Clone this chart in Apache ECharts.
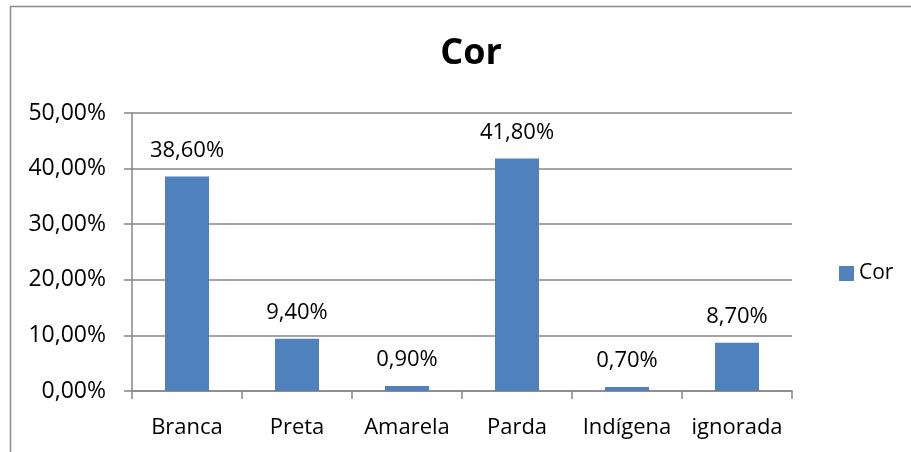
<!DOCTYPE html>
<html>
<head>
<meta charset="utf-8">
<script src="https://cdn.jsdelivr.net/npm/echarts@6/dist/echarts.min.js"></script>
<style>
  html, body { margin: 0; padding: 0; background: #fff; }
  #chart { width: 911px; height: 452px; }
</style>
</head>
<body>
<div id="chart"></div>
<script>
  // dados
  const categories = ['Branca', 'Preta', 'Amarela', 'Parda', 'Indígena', 'ignorada'];
  const corValues = [38.6, 9.4, 0.9, 41.8, 0.7, 8.7];
  const seriesName = 'Cor';

  const font = '"Open Sans", "Noto Sans", sans-serif';
  const pct = v => v.toFixed(2).replace('.', ',') + '%';

  const chart = echarts.init(document.getElementById('chart'));

  chart.setOption({
    animation: false,
    textStyle: { fontFamily: font },
    graphic: [
      {
        type: 'rect',
        shape: { x: 10.5, y: 6.5, width: 1000, height: 1000 },
        style: { fill: 'none', stroke: '#8c8c8c', lineWidth: 1.5 },
        silent: true,
      },
    ],
    title: {
      text: 'Cor',
      left: 466,
      top: 31,
      textAlign: 'center',
      textStyle: { fontFamily: font, fontSize: 36, fontWeight: 'bold', color: '#000' },
    },
    legend: {
      data: [seriesName],
      left: 834,
      top: 258,
      itemWidth: 15,
      itemHeight: 15,
      itemGap: 6,
      icon: 'rect',
      textStyle: { fontFamily: font, fontSize: 21, color: '#000' },
    },
    grid: {
      left: 132,
      right: 119,
      top: 113,
      bottom: 61,
    },
    xAxis: {
      type: 'category',
      data: categories,
      axisLine: { lineStyle: { color: '#868686', width: 1.5 } },
      axisTick: { show: true, length: 8, lineStyle: { color: '#868686', width: 1.5 } },
      axisLabel: { color: '#000', fontSize: 22, fontFamily: font, margin: 26, interval: 0 },
    },
    yAxis: {
      type: 'value',
      min: 0,
      max: 50,
      interval: 10,
      axisLine: { show: true, lineStyle: { color: '#868686', width: 1.5 } },
      axisTick: { show: true, length: 8, lineStyle: { color: '#868686', width: 1.5 } },
      splitLine: { lineStyle: { color: '#868686', width: 1.5 } },
      axisLabel: {
        color: '#000',
        fontSize: 23,
        fontFamily: font,
        margin: 26,
        formatter: v => pct(v),
      },
    },
    series: [
      {
        name: seriesName,
        type: 'bar',
        data: corValues,
        barWidth: '40%',
        itemStyle: { color: '#4f81bd' },
        label: {
          show: true,
          position: 'top',
          distance: 15,
          color: '#000',
          fontSize: 22,
          fontFamily: font,
          formatter: p => pct(p.value),
        },
      },
    ],
  });
</script>
</body>
</html>
